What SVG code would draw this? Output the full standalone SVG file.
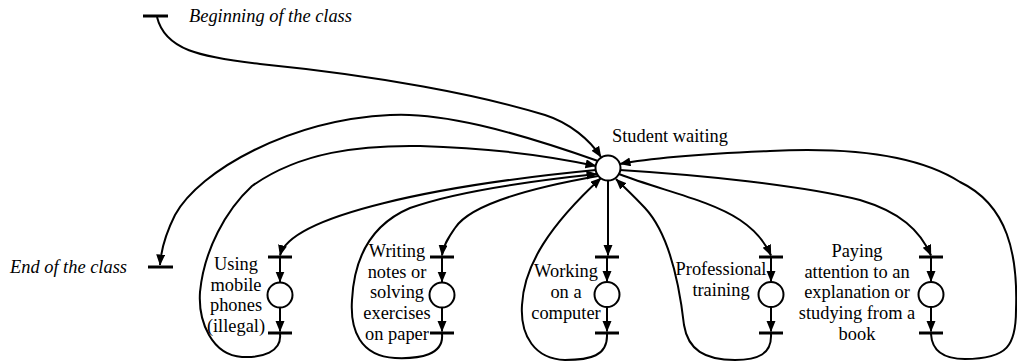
<svg xmlns="http://www.w3.org/2000/svg" width="1017" height="362" viewBox="0 0 1017 362">
<style>
.arc{fill:none;stroke:#000;stroke-width:2;marker-end:url(#ah)}
.bar{stroke:#000;stroke-width:3}
.place{fill:#fff;stroke:#000;stroke-width:2}
text{font-family:"Liberation Serif","Times New Roman",serif;font-size:18.4px;fill:#000}
.it{font-style:italic}
.c{text-anchor:middle}
</style>
<defs>
<marker id="ah" markerWidth="12" markerHeight="10" refX="10.5" refY="4.5" orient="auto" markerUnits="userSpaceOnUse"><path d="M0,0 L11,4.5 L0,9 z" fill="#000"/></marker>
</defs>
<rect width="1017" height="362" fill="#fff"/>
<g id="connectors">
<path class="arc" d="M157,17 C165,50 200,57 260,64 C380,76 480,95 545,115 C570,123 590,140 601,157"/>
<path class="arc" d="M598,161 C510,130 440,112 390,115 C290,120 200,170 175,215 C166,233 161,250 160,265"/>
<path class="arc" d="M280,334 C282,352 262,358 242,357 C212,355 198,322 200,292 C204,250 226,210 252,186 C300,152 360,145 420,146 C490,148 550,156 596,166"/>
<path class="arc" d="M596,170 C440,185 290,215 280,255.5"/>
<path class="arc" d="M442,334 C444,355 420,359 395,358 C360,356 350,330 352,300 C354,260 370,225 410,208 C460,190 540,180 597,174"/>
<path class="arc" d="M598,176 C530,188 470,205 455,228 C448,238 443,246 442,255.5"/>
<path class="arc" d="M607,334 C608,356 590,360 565,360 C535,359 520,336 522,305 C524,265 550,225 601,178"/>
<path class="arc" d="M608,181 L608,255.5"/>
<path class="arc" d="M771,334 C772,354 758,360 735,360 C705,360 688,350 684,325 C680,290 670,235 645,208 C633,195 624,187 616,179"/>
<path class="arc" d="M619,174 C660,190 710,200 740,220 C755,230 765,242 771,255.5"/>
<path class="arc" d="M620,170 C700,175 800,185 860,200 C900,212 920,230 931,255.5"/>
<path class="arc" d="M931,334 C932,352 945,359 965,359 C1008,359 1016,345 1016,310 C1018,255 1008,205 960,182 C910,150 830,148 770,151 C700,154 650,158 620,164"/>
<path class="arc" d="M280,258 L280,282"/>
<path class="arc" d="M280,308 L280,331.5"/>
<path class="arc" d="M442,258 L442,282"/>
<path class="arc" d="M442,308 L442,331.5"/>
<path class="arc" d="M607,258 L607,281.5"/>
<path class="arc" d="M607,307 L607,331.5"/>
<path class="arc" d="M771,258 L771,281.5"/>
<path class="arc" d="M771,307 L771,331.5"/>
<path class="arc" d="M931,258 L931,281.5"/>
<path class="arc" d="M931,307 L931,331.5"/>
</g>
<g id="beginning">
<line class="bar" x1="143" y1="16" x2="168" y2="16"/>
<text class="it" x="189" y="22">Beginning of the class</text>
</g>
<g id="end">
<line class="bar" x1="148" y1="267" x2="173" y2="267"/>
<text class="it" x="10" y="273">End of the class</text>
</g>
<g id="student-waiting">
<circle class="place" cx="608" cy="168" r="12.5"/>
<text x="612" y="142">Student waiting</text>
</g>
<g id="mobile">
<line class="bar" x1="268" y1="257" x2="292" y2="257"/>
<circle class="place" cx="280" cy="295" r="12.5"/>
<line class="bar" x1="268" y1="333" x2="292" y2="333"/>
<text class="c" x="236"><tspan x="236" y="270">Using</tspan><tspan x="236" y="290.6">mobile</tspan><tspan x="236" y="311.2">phones</tspan><tspan x="236" y="331.8">(illegal)</tspan></text>
</g>
<g id="writing">
<line class="bar" x1="430" y1="257" x2="454" y2="257"/>
<circle class="place" cx="442" cy="295" r="12.5"/>
<line class="bar" x1="430" y1="333" x2="454" y2="333"/>
<text class="c" x="397"><tspan x="397" y="257">Writing</tspan><tspan x="397" y="277.7">notes or</tspan><tspan x="397" y="298.4">solving</tspan><tspan x="397" y="319.1">exercises</tspan><tspan x="397" y="339.8">on paper</tspan></text>
</g>
<g id="computer">
<line class="bar" x1="595" y1="257" x2="619" y2="257"/>
<circle class="place" cx="607" cy="294.5" r="12.5"/>
<line class="bar" x1="595" y1="333" x2="619" y2="333"/>
<text class="c" x="566"><tspan x="566" y="277">Working</tspan><tspan x="566" y="298">on a</tspan><tspan x="566" y="319">computer</tspan></text>
</g>
<g id="training">
<line class="bar" x1="759" y1="257" x2="783" y2="257"/>
<circle class="place" cx="771" cy="294.5" r="12.5"/>
<line class="bar" x1="759" y1="333" x2="783" y2="333"/>
<text class="c" x="721"><tspan x="721" y="275">Professional</tspan><tspan x="721" y="296">training</tspan></text>
</g>
<g id="paying">
<line class="bar" x1="919" y1="257" x2="943" y2="257"/>
<circle class="place" cx="931" cy="294.5" r="12.5"/>
<line class="bar" x1="919" y1="333" x2="943" y2="333"/>
<text class="c" x="857"><tspan x="857" y="257">Paying</tspan><tspan x="857" y="277.7">attention to an</tspan><tspan x="857" y="298.4">explanation or</tspan><tspan x="857" y="319.1">studying from a</tspan><tspan x="857" y="339.8">book</tspan></text>
</g>
</svg>
